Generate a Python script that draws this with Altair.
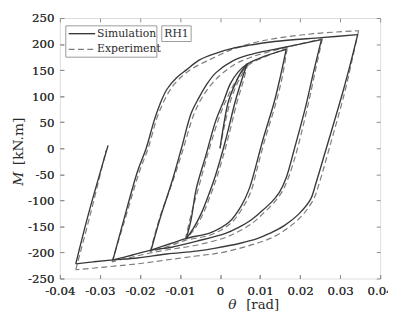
import altair as alt
import pandas as pd

# ---------------- data ----------------
x_ticks = [-0.04, -0.03, -0.02, -0.01, 0, 0.01, 0.02, 0.03, 0.04]
y_ticks = [-250, -200, -150, -100, -50, 0, 50, 100, 150, 200, 250]
series_names = ["Simulation", "Experiment"]
panel_label = ["RH1"]

# Simulation branches (theta [rad], M [kN.m])
sim_b1_theta = [0, 0.00088, 0.0021, 0.00381, 0.00528, 0.00675]
sim_b1_m = [0, 43.2, 90.2, 124.1, 146.6, 161.7]
sim_b2_theta = [0.00675, 0.00528, 0.00381, 0.00137, -0.00108, -0.00279, -0.00474, -0.0067, -0.00841]
sim_b2_m = [161.7, 127.8, 90.2, 15.0, -50.8, -88.3, -125.9, -154.1, -172.9]
sim_b3_theta = [-0.00841, -0.00719, -0.00597, -0.00352, -0.00108, 0.00088, 0.00259, 0.00455, 0.00675, 0.01115, 0.01653]
sim_b3_m = [-172.9, -135.3, -78.9, -13.2, 52.6, 90.2, 124.1, 146.6, 161.7, 176.7, 189.9]
sim_b4_theta = [0.01653, 0.01506, 0.01359, 0.01066, 0.0087, 0.00724, 0.00528, 0.00235, -0.0023, -0.00841, -0.01208, -0.01721]
sim_b4_m = [189.9, 137.2, 90.2, 15.0, -41.4, -78.9, -110.9, -141.0, -161.7, -172.9, -182.3, -195.5]
sim_b5_theta = [-0.01721, -0.01501, -0.01208, -0.00963, -0.00719, -0.00523, -0.00352, -0.00108, 0.00308, 0.00699, 0.01359, 0.01848, 0.02533]
sim_b5_m = [-195.5, -135.3, -65.8, 0, 67.7, 97.7, 120.3, 144.7, 167.3, 178.6, 189.9, 197.4, 208.6]
sim_b6_theta = [0.02533, 0.02337, 0.02142, 0.01848, 0.01653, 0.01482, 0.01286, 0.01017, 0.00748, 0.00455, 0.00137, -0.00597, -0.01208, -0.01721, -0.02186, -0.02675]
sim_b6_m = [208.6, 146.6, 80.8, -3.8, -56.4, -84.6, -103.4, -122.2, -139.1, -152.3, -163.5, -178.6, -189.9, -195.5, -204.9, -214.3]
sim_b7_theta = [-0.02675, -0.0243, -0.02064, -0.01844, -0.01648, -0.01501, -0.0133, -0.01086, -0.00841, -0.00523, -0.00108, 0.00308, 0.00699, 0.01359, 0.02533, 0.03438]
sim_b7_m = [-214.3, -144.7, -45.1, 0, 52.6, 84.6, 112.8, 135.3, 150.4, 169.2, 182.3, 191.7, 197.4, 204.9, 212.4, 218.0]
sim_b8_theta = [0.03438, 0.03267, 0.03071, 0.02655, 0.02386, 0.02264, 0.01971, 0.01604, 0.01237, 0.00944, 0.00504, -0.00108, -0.00597, -0.0133, -0.02064, -0.02675, -0.03164, -0.03604]
sim_b8_m = [218.0, 165.4, 109.0, 0, -69.5, -97.7, -125.9, -148.5, -163.5, -172.9, -182.3, -191.7, -197.4, -203.0, -210.5, -214.3, -218.0, -221.8]
sim_b9_theta = [-0.03604, -0.03286, -0.02797]
sim_b9_m = [-221.8, -125.9, 5.6]

# Experiment branches
exp_b1_theta = [0, 0.00112, 0.00259, 0.0043, 0.00577, 0.00699]
exp_b1_m = [0, 43.2, 90.2, 124.1, 146.6, 163.5]
exp_b2_theta = [0.00699, 0.00577, 0.0043, 0.00186, -0.00059, -0.0023, -0.00425, -0.00645, -0.00866]
exp_b2_m = [163.5, 127.8, 90.2, 15.0, -50.8, -88.3, -125.9, -156.0, -174.8]
exp_b3_theta = [-0.00866, -0.00719, -0.00548, -0.00279, -0.00034, 0.00161, 0.00357, 0.00553, 0.00748, 0.01164, 0.01677]
exp_b3_m = [-174.8, -125.9, -78.9, -3.8, 56.4, 94.0, 124.1, 146.6, 161.7, 176.7, 191.7]
exp_b4_theta = [0.01677, 0.01555, 0.01408, 0.01115, 0.00919, 0.00773, 0.00577, 0.00284, -0.00205, -0.00866, -0.01208, -0.01746]
exp_b4_m = [191.7, 137.2, 90.2, 15.0, -41.4, -82.7, -112.8, -142.9, -165.4, -176.7, -186.1, -199.2]
exp_b5_theta = [-0.01746, -0.01501, -0.01183, -0.00914, -0.0067, -0.00474, -0.00279, -0.0001, 0.00381, 0.00773, 0.01359, 0.01848, 0.02557]
exp_b5_m = [-199.2, -131.6, -63.9, 0, 62.0, 94.0, 116.5, 139.1, 161.7, 174.8, 188.0, 197.4, 210.5]
exp_b6_theta = [0.02557, 0.02386, 0.02191, 0.01922, 0.01726, 0.01555, 0.01359, 0.01066, 0.00822, 0.00504, 0.00137, -0.00597, -0.01208, -0.01746, -0.02186, -0.02699]
exp_b6_m = [210.5, 150.4, 80.8, -3.8, -52.6, -82.7, -103.4, -125.9, -142.9, -157.9, -171.1, -186.1, -193.6, -201.1, -208.6, -218.0]
exp_b7_theta = [-0.02699, -0.02406, -0.02015, -0.01795, -0.01575, -0.01403, -0.01208, -0.00963, -0.0067, -0.0023, 0.00308, 0.0087, 0.01359, 0.02337, 0.03462]
exp_b7_m = [-218.0, -144.7, -45.1, 0, 58.3, 90.2, 116.5, 137.2, 154.1, 171.1, 189.9, 203.0, 210.5, 219.9, 225.6]
exp_b8_theta = [0.03462, 0.03315, 0.0312, 0.02729, 0.02484, 0.02337, 0.02044, 0.01677, 0.01311, 0.00993, 0.00504, -0.00034, -0.00597, -0.0133, -0.02064, -0.02797, -0.03604]
exp_b8_m = [225.6, 174.8, 109.0, 0, -65.8, -97.7, -129.7, -154.1, -171.1, -180.5, -191.7, -201.1, -206.8, -214.3, -221.8, -227.4, -233.1]
exp_b9_theta = [-0.03604, -0.03237, -0.02846]
exp_b9_m = [-233.1, -125.9, -3.8]

sim_branches = [
    (sim_b1_theta, sim_b1_m), (sim_b2_theta, sim_b2_m), (sim_b3_theta, sim_b3_m),
    (sim_b4_theta, sim_b4_m), (sim_b5_theta, sim_b5_m), (sim_b6_theta, sim_b6_m),
    (sim_b7_theta, sim_b7_m), (sim_b8_theta, sim_b8_m), (sim_b9_theta, sim_b9_m),
]
exp_branches = [
    (exp_b1_theta, exp_b1_m), (exp_b2_theta, exp_b2_m), (exp_b3_theta, exp_b3_m),
    (exp_b4_theta, exp_b4_m), (exp_b5_theta, exp_b5_m), (exp_b6_theta, exp_b6_m),
    (exp_b7_theta, exp_b7_m), (exp_b8_theta, exp_b8_m), (exp_b9_theta, exp_b9_m),
]

rows = []
for name, branches in [("Experiment", exp_branches), ("Simulation", sim_branches)]:
    for bi, (th, mm) in enumerate(branches):
        for k, (t, v) in enumerate(zip(th, mm)):
            rows.append({"series": name, "branch": f"{name}{bi}", "idx": k, "theta": t, "M": v})
df = pd.DataFrame(rows)

# ---------------- styling ----------------
SERIF = "DejaVu Serif"
FRAME = "#8c8c8c"
TXT = "#2a2a2a"
SIM_COLOR, EXP_COLOR = "#3a3a3a", "#7c7c7c"
EXP_DASH = [6, 3.5]
W, H = 327, 266

x_scale = alt.Scale(domain=[-0.04, 0.04], nice=False, zero=False)
y_scale = alt.Scale(domain=[-250, 250], nice=False, zero=False)

x_label_expr = "datum.value == 0 ? '0' : (datum.value < 0 ? '-' : '') + format(abs(datum.value), '.2f')"
y_label_expr = "(datum.value < 0 ? '-' : '') + format(abs(datum.value), 'd')"

x_axis_bottom = alt.Axis(orient="bottom", values=x_ticks, offset=-4, tickSize=4, domain=False,
                         grid=False, labelPadding=7, labelExpr=x_label_expr, title=None,
                         labelFont=SERIF, labelFontSize=12, labelColor="#333333",
                         labelOverlap=False, labelFlush=False, labelBound=False, tickColor=FRAME)
y_axis_left = alt.Axis(orient="left", values=y_ticks, offset=-4, tickSize=4, domain=False,
                       grid=False, labelPadding=6, labelExpr=y_label_expr, title=None,
                       labelFont=SERIF, labelFontSize=12, labelColor="#333333",
                       labelOverlap=False, labelFlush=False, labelBound=False, tickColor=FRAME)

base = alt.Chart(df).encode(
    x=alt.X("theta:Q", scale=x_scale, axis=x_axis_bottom),
    y=alt.Y("M:Q", scale=y_scale, axis=y_axis_left),
    detail="branch:N",
    order="idx:Q",
)

exp_lines = base.transform_filter(alt.datum.series == "Experiment").mark_line(
    interpolate="catmull-rom", strokeWidth=1.2, color=EXP_COLOR, strokeDash=EXP_DASH)
sim_lines = base.transform_filter(alt.datum.series == "Simulation").mark_line(
    interpolate="catmull-rom", strokeWidth=1.4, color=SIM_COLOR)

# invisible layer carrying the top / right tick marks
ticks_tr = alt.Chart(df).mark_point(opacity=0).encode(
    x=alt.X("theta:Q", scale=x_scale,
            axis=alt.Axis(orient="top", values=x_ticks, offset=-4, tickSize=4, domain=False,
                          grid=False, labels=False, title=None, tickColor=FRAME)),
    y=alt.Y("M:Q", scale=y_scale,
            axis=alt.Axis(orient="right", values=y_ticks, offset=-4, tickSize=4, domain=False,
                          grid=False, labels=False, title=None, tickColor=FRAME)),
)

# legend (drawn by hand so rows sit close together like the original)
leg_df = pd.DataFrame({"name": series_names})
leg_box = alt.Chart(leg_df.head(1)).mark_rect(fill="white", stroke="#9a9a9a", strokeWidth=1).encode(
    x=alt.value(6), x2=alt.value(99), y=alt.value(8), y2=alt.value(40))
leg_sim_line = alt.Chart(leg_df.head(1)).mark_rule(color=SIM_COLOR, strokeWidth=1.4).encode(
    x=alt.value(9), x2=alt.value(36), y=alt.value(16))
leg_exp_line = alt.Chart(leg_df.head(1)).mark_rule(color=EXP_COLOR, strokeWidth=1.2,
                                                   strokeDash=EXP_DASH).encode(
    x=alt.value(9), x2=alt.value(36), y=alt.value(32))
leg_sim_text = alt.Chart(leg_df.iloc[[0]]).mark_text(font=SERIF, fontSize=11, color=TXT,
                                                     align="left", baseline="middle").encode(
    x=alt.value(38), y=alt.value(16), text="name:N")
leg_exp_text = alt.Chart(leg_df.iloc[[1]]).mark_text(font=SERIF, fontSize=11, color=TXT,
                                                     align="left", baseline="middle").encode(
    x=alt.value(38), y=alt.value(32), text="name:N")

label_df = pd.DataFrame({"t": panel_label})
rh_box = alt.Chart(label_df).mark_rect(fill="white", stroke="#9a9a9a", strokeWidth=1).encode(
    x=alt.value(104), x2=alt.value(134), y=alt.value(8), y2=alt.value(24))
rh_text = alt.Chart(label_df).mark_text(font=SERIF, fontSize=11, color=TXT,
                                        baseline="middle").encode(
    x=alt.value(119), y=alt.value(16.5), text="t:N")

xt_df = pd.DataFrame({"a": ["\u03b8"], "b": ["[rad]"]})
x_title_a = alt.Chart(xt_df).mark_text(font=SERIF, fontSize=14, fontStyle="italic", color=TXT,
                                        baseline="middle").encode(
    x=alt.value(176), y=alt.value(293), text="a:N")
x_title_b = alt.Chart(xt_df).mark_text(font=SERIF, fontSize=13.5, color=TXT,
                                        baseline="middle").encode(
    x=alt.value(207), y=alt.value(293), text="b:N")

yt_df = pd.DataFrame({"a": ["M"], "b": ["[kN.m]"]})
y_title_a = alt.Chart(yt_df).mark_text(font=SERIF, fontSize=14, fontStyle="italic", angle=270,
                                        color=TXT, baseline="middle").encode(
    x=alt.value(-42), y=alt.value(164), text="a:N")
y_title_b = alt.Chart(yt_df).mark_text(font=SERIF, fontSize=14, angle=270, color=TXT,
                                        baseline="middle").encode(
    x=alt.value(-42), y=alt.value(126), text="b:N")

chart = alt.layer(
    exp_lines, sim_lines, ticks_tr,
    leg_box, leg_sim_line, leg_exp_line, leg_sim_text, leg_exp_text,
    rh_box, rh_text, x_title_a, x_title_b, y_title_a, y_title_b
).resolve_axis(
    x="independent", y="independent"
).properties(
    width=W, height=H,
    autosize=alt.AutoSizeParams(type="none"),
    padding={"left": 53, "top": 7, "right": 8, "bottom": 33},
).configure_view(
    stroke=FRAME, strokeWidth=1
).configure(background="white")

chart.save("out.html", embed_options={"renderer": "svg", "actions": False})
